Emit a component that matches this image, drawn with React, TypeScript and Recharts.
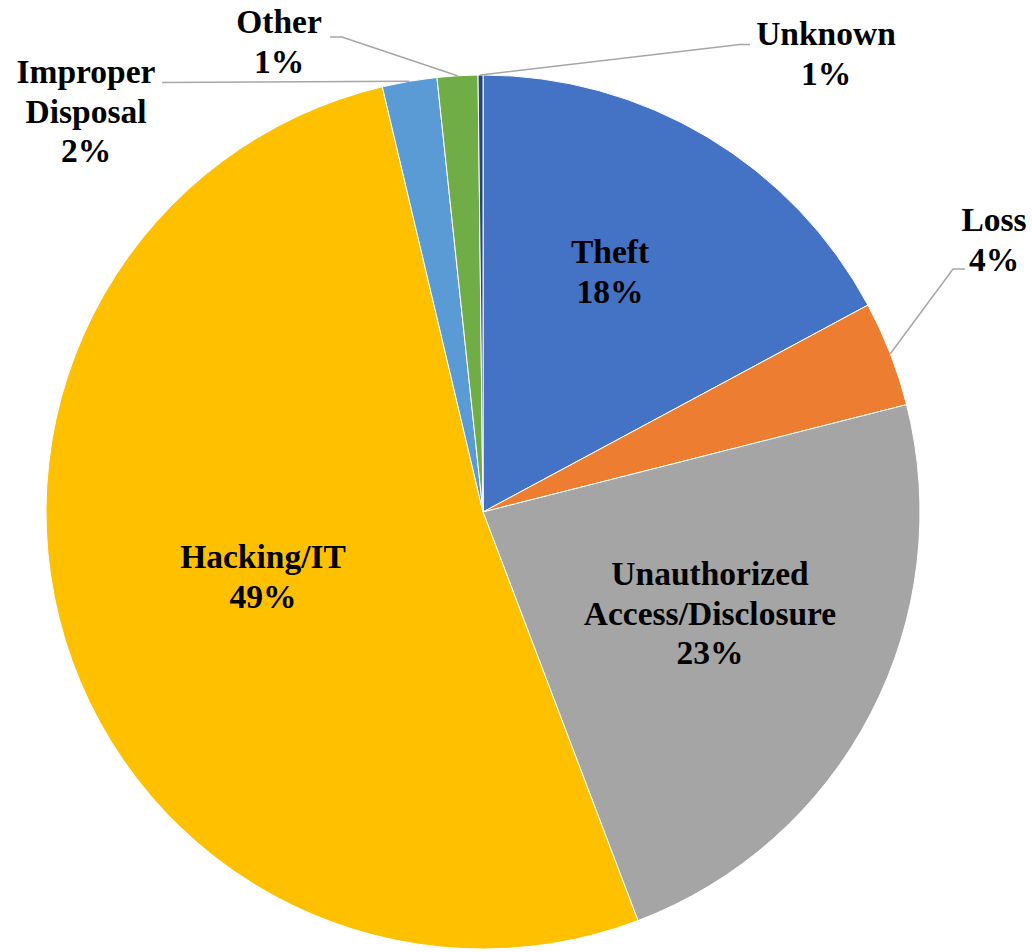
import React from 'react';
import { PieChart, Pie, Cell } from 'recharts';

// Breach types, clockwise from 12 o'clock
const categories = ['Theft', 'Loss', 'Unauthorized Access/Disclosure', 'Hacking/IT', 'Improper Disposal', 'Other', 'Unknown'];
const shares = [17.15, 3.9, 23.18, 52.07, 2.02, 1.5, 0.18];
const percentLabels = ['18%', '4%', '23%', '49%', '2%', '1%', '1%'];
const labelLines = [
  ['Theft'],
  ['Loss'],
  ['Unauthorized', 'Access/Disclosure'],
  ['Hacking/IT'],
  ['Improper', 'Disposal'],
  ['Other'],
  ['Unknown'],
];

const colors = ['#4472C4', '#ED7D31', '#A5A5A5', '#FFC000', '#5B9BD5', '#70AD47', '#264478'];

// label placement: text center x / first baseline y, plus optional leader line points
const labelLayout: { x: number; y: number; leader?: [number, number][] }[] = [
  { x: 610, y: 263 },
  { x: 994, y: 231, leader: [[953, 269], [965, 269]] },
  { x: 710, y: 585 },
  { x: 263, y: 568 },
  { x: 86, y: 83, leader: [[162, 82.5]] },
  { x: 279, y: 33, leader: [[342, 37], [330, 37]] },
  { x: 826, y: 45, leader: [[740, 44.5], [750, 44.5]] },
];

const data = categories.map((name, i) => ({ name, value: shares[i] }));

const RAD = Math.PI / 180;
const LINE_H = 39.5;

function renderLabel(props: any) {
  const { cx, cy, midAngle, outerRadius, index } = props;
  const layout = labelLayout[index];
  const lines = [...labelLines[index], percentLabels[index]];
  let path: string | null = null;
  if (layout.leader) {
    const sx = cx + outerRadius * Math.cos(-midAngle * RAD);
    const sy = cy + outerRadius * Math.sin(-midAngle * RAD);
    path = `M${sx},${sy}` + layout.leader.map(([px, py]) => ` L${px},${py}`).join('');
  }
  return (
    <g key={`lbl-${index}`}>
      {path && <path d={path} stroke="#A6A6A6" strokeWidth={1.5} fill="none" />}
      <text
        x={layout.x}
        y={layout.y}
        textAnchor="middle"
        fill="#000"
        style={{ fontFamily: 'Liberation Serif', fontWeight: 700, fontSize: 33.5 }}
      >
        {lines.map((t, i) => (
          <tspan key={i} x={layout.x} y={layout.y + i * LINE_H}>
            {t}
          </tspan>
        ))}
      </text>
    </g>
  );
}

export default function App() {
  return (
    <div style={{ position: 'absolute', left: 0, top: 0, width: 1032, height: 952, background: '#fff' }}>
      <PieChart width={1032} height={952} margin={{ top: 0, right: 0, bottom: 0, left: 0 }}>
        <Pie
          data={data}
          dataKey="value"
          nameKey="name"
          cx={483}
          cy={512}
          outerRadius={437}
          startAngle={90}
          endAngle={-270}
          stroke="#ffffff"
          strokeWidth={1}
          label={renderLabel}
          labelLine={false}
          isAnimationActive={false}
        >
          {data.map((_, i) => (
            <Cell key={`cell-${i}`} fill={colors[i]} />
          ))}
        </Pie>
      </PieChart>
    </div>
  );
}
